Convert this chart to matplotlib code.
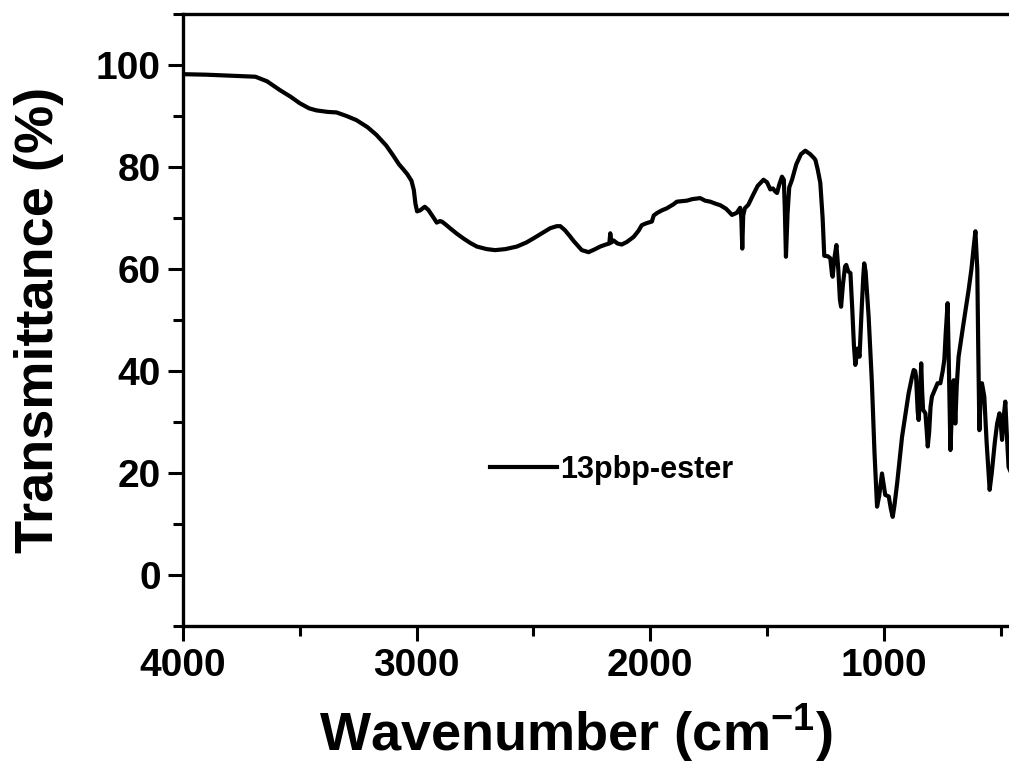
import numpy as np
import matplotlib
matplotlib.use("Agg")
import matplotlib.pyplot as plt
from matplotlib.ticker import MultipleLocator

# FTIR spectrum
wavenumber = [
    4000, 3900, 3800, 3750, 3690, 3640, 3586, 3540, 3500, 3460, 3429, 3380,
    3343, 3300, 3258, 3210, 3172, 3130, 3101, 3075, 3058, 3040, 3022, 3012,
    3005, 2998, 2985, 2965, 2950, 2935, 2925, 2914, 2900, 2892, 2875, 2857,
    2830, 2800, 2770, 2742, 2700, 2664, 2620, 2571, 2530, 2500, 2460, 2428,
    2400, 2385, 2365, 2345, 2328, 2305, 2293, 2264, 2240, 2214, 2190, 2175,
    2171, 2166, 2157, 2140, 2122, 2100, 2071, 2050, 2036, 2015, 1993, 1985,
    1970, 1950, 1929, 1900, 1886, 1843, 1820, 1786, 1765, 1743, 1720, 1700,
    1675, 1650, 1630, 1615, 1610, 1606, 1602, 1595, 1580, 1560, 1540, 1515,
    1500, 1486, 1475, 1465, 1457, 1448, 1436, 1428, 1424, 1419, 1412, 1405,
    1393, 1375, 1355, 1336, 1315, 1300, 1293, 1283, 1272, 1262, 1255, 1240,
    1229, 1222, 1219, 1212, 1203, 1195, 1188, 1183, 1175, 1166, 1161, 1152,
    1143, 1135, 1128, 1122, 1112, 1104, 1095, 1088, 1084, 1078, 1065, 1051,
    1040, 1029, 1020, 1008, 1000, 994, 979, 970, 962, 955, 943, 922, 894,
    880, 872, 866, 862, 855, 851, 846, 840, 836, 832, 822, 816, 812, 806,
    800, 794, 780, 770, 758, 748, 741, 735, 727, 722, 715, 708, 701, 694,
    688, 680, 660, 637, 625, 615, 608, 600, 596, 591, 585, 580, 575, 570,
    560, 547, 538, 525, 515, 505, 500, 494, 487, 480, 474, 466, 455,
]
transmittance = [
    98.2, 98.1, 97.9, 97.8, 97.7, 96.8, 95.1, 93.8, 92.5, 91.5, 91.1, 90.8,
    90.7, 90.0, 89.2, 87.8, 86.3, 84.2, 82.3, 80.5, 79.6, 78.6, 77.3, 75.5,
    72.8, 71.3, 71.5, 72.2, 71.6, 70.6, 69.9, 69.1, 69.4, 69.3, 68.7, 68.0,
    67.0, 66.0, 65.1, 64.4, 63.9, 63.7, 63.9, 64.4, 65.2, 66.0, 67.1, 68.0,
    68.4, 68.4, 67.6, 66.5, 65.5, 64.3, 63.7, 63.3, 63.8, 64.4, 64.8, 65.0,
    67.0, 65.2, 65.6, 65.0, 64.8, 65.3, 66.3, 67.5, 68.6, 69.0, 69.3, 70.5,
    71.0, 71.5, 71.9, 72.7, 73.2, 73.4, 73.7, 73.9, 73.4, 73.2, 72.8, 72.5,
    71.8, 70.6, 71.0, 72.0, 70.0, 64.0, 70.5, 71.9, 72.6, 74.5, 76.3, 77.5,
    77.0, 75.6, 75.8, 75.2, 74.9, 76.5, 78.1, 77.5, 72.0, 62.4, 71.0, 76.0,
    77.5, 80.5, 82.5, 83.2, 82.5, 81.8, 81.4, 79.5, 76.9, 70.0, 62.6, 62.5,
    62.1, 59.0, 58.5, 62.0, 64.7, 60.0, 54.0, 52.6, 57.0, 60.5, 60.8, 59.5,
    59.2, 52.0, 45.0, 41.2, 44.4, 42.8, 52.0, 58.5, 61.1, 59.5, 50.6, 37.6,
    24.0, 13.4, 15.5, 19.9, 17.5, 15.7, 15.4, 13.0, 11.4, 13.5, 18.0, 27.1, 35.6,
    38.7, 40.2, 40.0, 38.9, 32.0, 30.4, 34.0, 41.5, 36.0, 32.4, 31.7, 28.0, 25.2, 28.0,
    33.0, 35.0, 36.5, 37.6, 37.6, 40.0, 42.2, 47.5, 53.3, 42.0, 24.5, 33.0, 38.2, 29.7,
    37.0, 42.8, 49.0, 55.9, 60.0, 64.5, 67.4, 60.0, 45.0, 28.4, 35.5, 37.6, 36.3, 35.0,
    26.0, 16.7, 20.0, 26.0, 29.7, 31.7, 30.0, 26.5, 31.0, 34.0, 28.0, 21.2, 20.0,
]
series_label = "13pbp-ester"

plt.rcParams["font.family"] = ["Liberation Sans", "DejaVu Sans"]
plt.rcParams["font.weight"] = "bold"
plt.rcParams["mathtext.fontset"] = "custom"
plt.rcParams["mathtext.rm"] = "Liberation Sans:bold"
plt.rcParams["mathtext.it"] = "Liberation Sans:bold"
plt.rcParams["mathtext.bf"] = "Liberation Sans:bold"

fig = plt.figure(figsize=(10.09, 7.69), dpi=100)
# the original is cropped on the right, so the axes run a bit past the figure edge
ax = fig.add_axes([183 / 1009, 143 / 769, 841 / 1009, 612 / 769])

ax.plot(wavenumber, transmittance, color="black", linewidth=3.0, label=series_label)

ax.set_xlim(4000, 400)
ax.set_ylim(-10, 110)
ax.xaxis.set_major_locator(MultipleLocator(1000))
ax.xaxis.set_minor_locator(MultipleLocator(500))
ax.yaxis.set_major_locator(MultipleLocator(20))
ax.yaxis.set_minor_locator(MultipleLocator(10))

for side in ["left", "bottom", "top", "right"]:
    ax.spines[side].set_linewidth(2.4)

ax.tick_params(which="major", direction="out", length=11, width=2.2,
               labelsize=28, pad=5)
ax.tick_params(which="minor", direction="out", length=7, width=2.2)
for lbl in ax.get_xticklabels() + ax.get_yticklabels():
    lbl.set_fontweight("bold")

ax.set_xlabel(r"Wavenumber (cm$^{-1}$)", fontsize=39, fontweight="bold")
ax.set_ylabel("Transmittance (%)", fontsize=39, fontweight="bold")
ax.xaxis.set_label_coords(0.467, -0.125)
ax.yaxis.set_label_coords(-0.141, 0.5)

ax.legend(loc="center left", bbox_to_anchor=(0.365, 0.255), frameon=False,
          handlelength=2.2, handletextpad=0.1,
          borderpad=0, borderaxespad=0, prop={"weight": "bold", "size": 22})

fig.savefig("out.png", dpi=100)
plt.close(fig)
